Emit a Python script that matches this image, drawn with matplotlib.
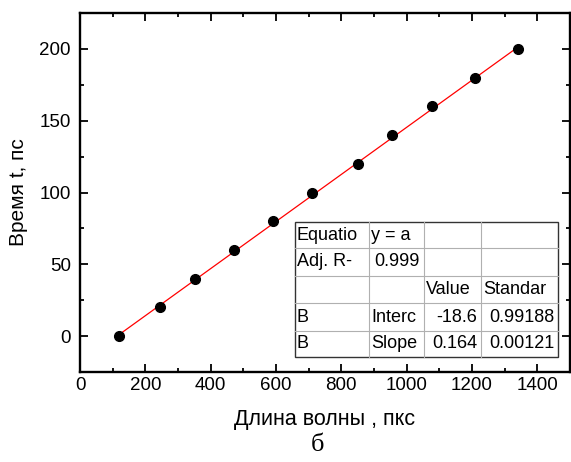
import numpy as np
import matplotlib.pyplot as plt
from matplotlib.ticker import MultipleLocator

# данные
wavelength = [120, 244, 352, 470, 592, 711, 852, 956, 1078, 1209, 1340]
time_ps = [0, 20, 40, 60, 80, 100, 120, 140, 160, 180, 200]

# параметры линейной аппроксимации (из таблицы)
intercept = -18.6
slope = 0.164
table_rows = [
    ["Equatio", "y = a", "", ""],
    ["Adj. R-", "0.999", "", ""],
    ["", "", "Value", "Standar"],
    ["B", "Interc", "-18.6", "0.99188"],
    ["B", "Slope", "0.164", "0.00121"],
]

plt.rcParams['font.family'] = ['Liberation Sans', 'DejaVu Sans']

W, H = 571, 462
fig = plt.figure(figsize=(W / 100, H / 100), dpi=100)
ax = fig.add_axes([80 / W, 1 - 372 / H, 490 / W, 359 / H])

xs = np.array([wavelength[0], wavelength[-1]])
ax.plot(xs, intercept + slope * xs, color='red', lw=0.9, zorder=2)
ax.plot(wavelength, time_ps, 'o', color='black', ms=7, zorder=3)

ax.set_xlim(0, 1500)
ax.set_ylim(-25, 225)
ax.xaxis.set_major_locator(MultipleLocator(200))
ax.xaxis.set_minor_locator(MultipleLocator(100))
ax.yaxis.set_major_locator(MultipleLocator(50))
ax.yaxis.set_minor_locator(MultipleLocator(25))
ax.tick_params(which='both', direction='in', top=True, right=True,
               labelsize=13.5, width=1.3)
ax.tick_params(axis='x', pad=3.5)
ax.tick_params(axis='y', pad=6.5)
ax.tick_params(which='major', length=6)
ax.tick_params(which='minor', length=3)
for s in ax.spines.values():
    s.set_linewidth(1.7)

ax.set_xlabel('Длина волны , пкс', fontsize=15.5)
ax.set_ylabel('Время t, пс', fontsize=15)
ax.xaxis.set_label_coords(0.5, -(419 - 372) / 359, transform=ax.transAxes)
ax.yaxis.set_label_coords(-(80 - 18) / 490, 0.5, transform=ax.transAxes)
ax.xaxis.label.set_va('center')
ax.yaxis.label.set_va('center')

# таблица результатов
col_x = [295, 369, 424, 481, 558]
row_y = [222, 248, 276, 303, 331, 357]
for x in col_x[1:-1]:
    fig.add_artist(plt.Line2D([x / W] * 2, [1 - row_y[0] / H, 1 - row_y[-1] / H],
                              color='#b0b0b0', lw=0.8))
for y in row_y[1:-1]:
    fig.add_artist(plt.Line2D([col_x[0] / W, col_x[-1] / W], [1 - y / H] * 2,
                              color='#b0b0b0', lw=0.8))
fig.add_artist(plt.Rectangle((col_x[0] / W, 1 - row_y[-1] / H),
                             (col_x[-1] - col_x[0]) / W, (row_y[-1] - row_y[0]) / H,
                             fill=True, facecolor='white', edgecolor='#333333', lw=1.0,
                             zorder=0.5))
for i, row in enumerate(table_rows):
    yc = 1 - (row_y[i] + row_y[i + 1]) / 2 / H
    for j, txt in enumerate(row):
        if not txt:
            continue
        numeric = (j >= 1 and i >= 3 and txt[0] in '-0123456789') or (i == 1 and j == 1)
        if numeric:
            fig.text((col_x[j + 1] - 4) / W, yc, txt, ha='right', va='center', fontsize=13)
        else:
            fig.text((col_x[j] + 2) / W, yc, txt, ha='left', va='center', fontsize=13)

fig.text(318 / W, 1 - 445 / H, 'б', family=['Liberation Serif', 'DejaVu Serif'],
         fontsize=19, ha='center', va='center')

fig.savefig('out.png', dpi=100)
